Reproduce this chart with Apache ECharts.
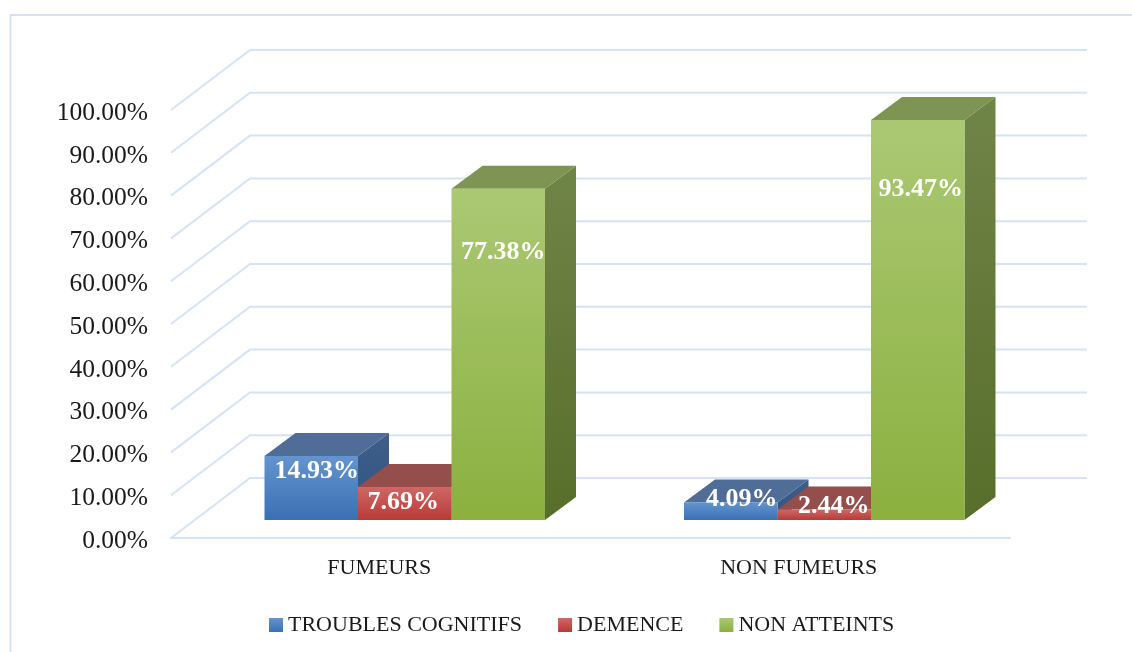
<!DOCTYPE html>
<html>
<head>
<meta charset="utf-8">
<style>
  html, body { margin:0; padding:0; background:#fff; overflow:hidden; }
  #chart { width:1132px; height:652px; }
</style>
<script src="https://cdn.jsdelivr.net/npm/echarts@6/dist/echarts.min.js"></script>
</head>
<body>
<div id="chart"></div>
<script>
var categories = ['FUMEURS', 'NON FUMEURS'];
var troubles = [14.93, 4.09];
var demence = [7.69, 2.44];
var nonAtteints = [77.38, 93.47];
var yTicks = [0, 10, 20, 30, 40, 50, 60, 70, 80, 90, 100];

// how the 3D box is projected, in px
var wallDx = 79, wallDy = 60;   // front axis -> back wall
var barDx = 24, barDy = 18;     // front axis -> front of the bars
var depthDx = 31, depthDy = 23; // depth of a bar
var barW = 93.5;
var wallRightDx = 77;

var serif = '"Liberation Serif", "DejaVu Serif", serif';
var wallColor = '#d6e3f4';

function grad(top, bottom){
    return new echarts.graphic.LinearGradient(0, 0, 0, 1, [
        {offset: 0, color: top},
        {offset: 1, color: bottom}
    ]);
}

var colors = {
    troubles: {front: [ '#6494cf', '#3a70b4' ], top: '#4f6d96', side: [ '#3f5f8a', '#2f5380' ]},
    demence: {front: [ '#cf6765', '#b83a37' ], top: '#944f4d', side: [ '#83403e', '#6e2f2d' ]},
    green: {front: [ '#abc873', '#8bb03f' ], top: '#7e9452', side: [ '#6f8447', '#586e2b' ]}
};

// render one box, pos = index of the bar inside its category
function boxRenderer(pos, c, labelShift){
    return function(params, api){
        var idx = api.value(0);
        var val = api.value(1);
        var base = api.coord([idx, 0]);
        var topPt = api.coord([idx, val]);
        var x0 = base[0] + barDx + (pos - 1.5) * barW;
        var x1 = x0 + barW;
        var yb = base[1] - barDy;
        var yt = topPt[1] - barDy;
        return {
            type: 'group',
            children: [
                {type: 'polygon', shape: {points: [[x1, yb], [x1 + depthDx, yb - depthDy], [x1 + depthDx, yt - depthDy], [x1, yt]]},
                 style: {fill: grad(c.side[0], c.side[1])}},
                {type: 'polygon', shape: {points: [[x0, yt], [x0 + depthDx, yt - depthDy], [x1 + depthDx, yt - depthDy], [x1, yt]]},
                 style: {fill: c.top}},
                {type: 'rect', shape: {x: x0, y: yt, width: barW, height: yb - yt},
                 style: {fill: grad(c.front[0], c.front[1])}},
                {type: 'text', z2: 100,
                 style: {x: x0 + barW / 2 + labelShift[idx][0], y: yt + labelShift[idx][1],
                         text: val.toFixed(2) + '%', fill: '#fff',
                         font: 'bold 26px ' + serif, align: 'center', verticalAlign: 'middle'}}
            ]
        };
    };
}

function wallRenderer(params, api){
    var v = api.value(0);
    var p = api.coord([0, v]);
    var sys = params.coordSys;
    var left = sys.x;
    var right = sys.x + sys.width + wallRightDx;
    return {
        type: 'polyline',
        shape: {points: [[left, p[1]], [left + wallDx, p[1] - wallDy], [right, p[1] - wallDy]]},
        style: {stroke: wallColor, lineWidth: 2, fill: null}
    };
}

function toPairs(arr){
    var out = [];
    for(var i = 0; i < arr.length; i++){
        out.push([i, arr[i]]);
    }
    return out;
}

function boxSeries(name, arr, pos, c, labelShift){
    return {
        name: name,
        type: 'custom',
        coordinateSystem: 'cartesian2d',
        renderItem: boxRenderer(pos, c, labelShift),
        itemStyle: {color: grad(c.front[0], c.front[1])},
        data: toPairs(arr),
        z: 3
    };
}

var mychart = echarts.init(document.getElementById('chart'));
var option = {
    animation: false,
    backgroundColor: '#fff',
    graphic: [{
        type: 'polyline',
        silent: true,
        shape: {points: [[10.5, 652], [10.5, 15], [1132, 15]]},
        style: {stroke: wallColor, lineWidth: 2, fill: null}
    }],
    grid: {left: 171, top: 110, width: 839, height: 428, containLabel: false},
    legend: {
        left: 269,
        top: 614,
        padding: 0,
        itemWidth: 14,
        itemHeight: 14,
        itemGap: 36,
        icon: 'rect',
        textStyle: {fontFamily: serif, fontSize: 22, color: '#1a1a1a'},
        data: ['TROUBLES COGNITIFS', 'DEMENCE', 'NON ATTEINTS']
    },
    xAxis: {
        type: 'category',
        data: categories,
        axisLine: {lineStyle: {color: wallColor, width: 2}},
        axisTick: {show: false},
        axisLabel: {fontFamily: serif, fontSize: 22, color: '#1a1a1a', margin: 18, padding: [1, 3, 0, 0]}
    },
    yAxis: {
        type: 'value',
        min: yTicks[0],
        max: yTicks[yTicks.length - 1],
        interval: yTicks[1] - yTicks[0],
        axisLine: {show: false},
        axisTick: {show: false},
        splitLine: {show: false},
        axisLabel: {
            fontFamily: serif, fontSize: 25.5, color: '#1a1a1a', margin: 23,
            verticalAlign: 'top', lineHeight: 6,
            formatter: function(v){ return v.toFixed(2) + '%'; }
        }
    },
    series: [
        {
            type: 'custom',
            coordinateSystem: 'cartesian2d',
            renderItem: wallRenderer,
            encode: {y: 0},
            data: yTicks.slice(1).map(function(v){ return [v]; }).concat([[0]]),
            silent: true,
            z: 1
        },
        boxSeries('TROUBLES COGNITIFS', troubles, 0, colors.troubles, [[5.5, 15], [11, -3]]),
        boxSeries('DEMENCE', demence, 1, colors.demence, [[-1.5, 15], [9.5, -3]]),
        boxSeries('NON ATTEINTS', nonAtteints, 2, colors.green, [[5, 63], [3, 69]])
    ]
};
mychart.setOption(option);
</script>
</body>
</html>
